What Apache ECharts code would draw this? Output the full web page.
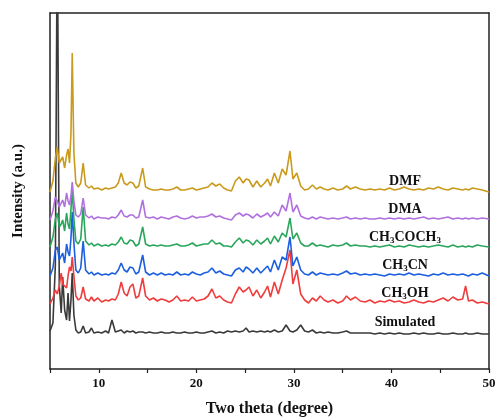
<!DOCTYPE html>
<html>
<head>
<meta charset="utf-8">
<script src="https://cdn.jsdelivr.net/npm/echarts@6/dist/echarts.min.js"></script>
<style>html,body{margin:0;padding:0;background:#fff}#c{width:499px;height:418px}</style>
</head>
<body>
<div id="c"></div>
<script>
// 2θ sample positions (degree)
const twoTheta = [
  5.0, 5.3, 5.55, 5.75, 5.95, 6.15, 6.3, 6.5, 6.7, 6.85,
  7.0, 7.15, 7.28, 7.45, 7.65, 7.9, 8.15, 8.4, 8.65, 9.0,
  9.25, 9.5, 9.9, 10.3, 10.7, 11.0, 11.35, 11.7, 12.0, 12.3,
  12.6, 12.9, 13.2, 13.5, 13.8, 14.1, 14.5, 14.8, 15.2, 15.6,
  16.0, 16.4, 16.8, 17.2, 17.6, 18.0, 18.4, 18.8, 19.2, 19.6,
  20.0, 20.4, 20.8, 21.2, 21.6, 22.0, 22.4, 22.8, 23.2, 23.6,
  24.0, 24.4, 24.8, 25.1, 25.4, 25.8, 26.2, 26.6, 27.0, 27.3,
  27.6, 28.0, 28.4, 28.8, 29.2, 29.6, 29.9, 30.3, 30.7, 31.1,
  31.5, 31.9, 32.3, 32.7, 33.1, 33.5, 34.0, 34.5, 35.0, 35.4,
  35.8, 36.3, 36.8, 37.3, 37.8, 38.3, 38.8, 39.3, 39.8, 40.3,
  40.8, 41.3, 41.8, 42.3, 42.8, 43.3, 43.8, 44.3, 44.8, 45.3,
  45.8, 46.3, 46.8, 47.3, 47.6, 47.9, 48.3, 48.8, 49.3, 50.0
];

// Intensities (a.u.) of each pattern above its own baseline
const simulated = [
  4, 12, 70, 420, 50, 22, 58, 25, 15, 42,
  14, 35, 62, 20, 5, 2, 3, 9, 2, 3,
  7, 2, 3, 2, 4, 2, 15, 3, 4, 5,
  2, 4, 3, 4, 2, 3, 3, 2, 3, 2,
  2, 3, 2, 2, 3, 2, 2, 3, 2, 2,
  3, 2, 2, 3, 4, 2, 3, 2, 4, 3,
  4, 3, 4, 7, 3, 4, 3, 4, 3, 4,
  3, 5, 3, 4, 10, 4, 3, 5, 10, 4,
  3, 5, 2, 3, 2, 3, 2, 2, 3, 4,
  2, 2, 2, 2, 2, 1, 2, 1, 2, 1,
  2, 1, 1, 2, 1, 2, 1, 1, 2, 1,
  1, 2, 1, 1, 2, 1, 1, 2, 1, 1
];
const ch3oh = [
  2, 8, 16, 12, 20, 33, 22, 24, 18, 30,
  39, 35, 49, 30, 10, 6, 8, 19, 7, 5,
  9, 5, 8, 4, 6, 5, 7, 6, 12, 24,
  13, 10, 19, 22, 8, 10, 28, 10, 6, 8,
  5, 7, 6, 4, 6, 10, 5, 6, 5, 9,
  5, 6, 7, 10, 17, 8, 10, 6, 4, 3,
  12, 19, 14, 16, 19, 10, 16, 8, 14, 20,
  9, 24, 12, 26, 38, 56, 22, 36, 12, 6,
  3, 8, 5, 10, 6, 4, 6, 3, 5, 10,
  6, 9, 5, 4, 6, 3, 5, 4, 6, 4,
  5, 3, 4, 6, 4, 3, 5, 4, 6, 8,
  5, 9, 6, 7, 20, 5, 6, 3, 4, 2
];
const ch3cn = [
  2, 10, 28, 31, 18, 22, 25, 15, 34, 26,
  22, 40, 66, 35, 8, 5, 10, 37, 8, 4,
  6, 3, 5, 3, 4, 3, 5, 4, 8, 15,
  8, 6, 11, 10, 4, 6, 23, 6, 3, 5,
  3, 5, 3, 4, 3, 6, 3, 4, 3, 6,
  4, 3, 5, 6, 10, 5, 7, 4, 3, 2,
  8, 10, 6, 11, 9, 5, 10, 5, 9, 12,
  6, 18, 8, 21, 18, 41, 12, 21, 8, 4,
  3, 6, 3, 5, 4, 3, 4, 3, 5, 7,
  4, 5, 3, 4, 3, 4, 3, 2, 4, 3,
  4, 3, 5, 3, 4, 3, 2, 4, 3, 5,
  3, 4, 3, 4, 3, 2, 4, 3, 5, 2
];
const ch3coch3 = [
  2, 12, 30, 36, 22, 25, 29, 18, 36, 25,
  20, 40, 59, 30, 8, 5, 10, 42, 8, 4,
  6, 3, 5, 3, 4, 3, 5, 4, 7, 12,
  6, 5, 9, 8, 3, 5, 22, 5, 3, 4,
  3, 4, 3, 3, 4, 5, 3, 3, 4, 6,
  3, 4, 5, 5, 9, 5, 6, 3, 3, 2,
  7, 11, 6, 9, 8, 4, 9, 5, 8, 11,
  5, 13, 7, 16, 12, 31, 10, 16, 6, 3,
  3, 6, 3, 4, 3, 2, 4, 3, 4, 6,
  3, 4, 3, 3, 2, 3, 2, 3, 4, 2,
  3, 2, 4, 3, 2, 3, 2, 3, 4, 3,
  2, 4, 2, 3, 2, 3, 2, 4, 3, 2
];
const dma = [
  1, 10, 24, 20, 14, 18, 21, 14, 28, 20,
  16, 25, 39, 20, 6, 4, 7, 23, 6, 3,
  5, 2, 4, 3, 3, 2, 4, 3, 6, 11,
  5, 4, 6, 6, 3, 4, 21, 4, 3, 4,
  2, 4, 3, 2, 4, 5, 3, 2, 3, 5,
  3, 4, 4, 5, 7, 4, 5, 3, 2, 1,
  6, 8, 5, 7, 6, 3, 7, 4, 6, 8,
  4, 9, 5, 16, 10, 28, 9, 16, 5, 3,
  2, 4, 2, 4, 3, 2, 3, 2, 3, 4,
  2, 3, 2, 3, 2, 2, 3, 2, 3, 2,
  3, 2, 3, 2, 3, 4, 2, 3, 2, 3,
  4, 2, 3, 2, 3, 2, 3, 2, 3, 2
];
const dmf = [
  1, 12, 35, 46, 30, 32, 36, 25, 38, 44,
  30, 60, 140, 40, 10, 6, 10, 30, 8, 5,
  7, 4, 5, 3, 5, 4, 5, 6, 10, 20,
  10, 8, 11, 10, 5, 7, 25, 6, 4, 3,
  3, 4, 3, 3, 4, 6, 3, 3, 4, 5,
  3, 4, 5, 6, 10, 7, 9, 5, 3, 2,
  12, 16, 10, 14, 13, 6, 12, 6, 10, 14,
  7, 20, 10, 24, 18, 42, 14, 20, 7, 3,
  4, 8, 4, 6, 4, 3, 5, 3, 4, 7,
  4, 6, 4, 3, 4, 3, 4, 3, 5, 3,
  4, 6, 4, 3, 4, 3, 5, 4, 6, 4,
  3, 5, 4, 3, 4, 3, 5, 4, 3, 1
];

// Stacking offsets (a.u.) and names, bottom to top
const seriesNames = ['Simulated', 'CH3OH', 'CH3CN', 'CH3COCH3', 'DMA', 'DMF'];
const seriesValues = [simulated, ch3oh, ch3cn, ch3coch3, dma, dmf];
const offsets = [34, 63, 91, 120, 148, 176];
const colors = ['#3a3a3a', '#f03c3c', '#1c5fe0', '#2aa65c', '#b070e0', '#c99a1c'];
const labelTexts = ['Simulated', '{b|CH}{s|3}{b|OH}', '{b|CH}{s|3}{b|CN}', '{b|CH}{s|3}{b|COCH}{s|3}', 'DMA', 'DMF'];
const labelY = [322, 293, 265, 237, 209, 181];

const xTicks = [10, 20, 30, 40, 50];

const chart = echarts.init(document.getElementById('c'), null, {renderer: 'canvas'});
const serif = '"Liberation Serif", "Times New Roman", serif';

const series = seriesValues.map((vals, k) => ({
  type: 'line',
  name: seriesNames[k],
  data: twoTheta.map((x, i) => [x, vals[i] + offsets[k]]),
  showSymbol: false,
  symbol: 'none',
  clip: true,
  lineStyle: {color: colors[k], width: 1.6},
  itemStyle: {color: colors[k]},
  animation: false,
  z: 2 + k
}));

const graphic = labelTexts.map((t, k) => ({
  type: 'text',
  x: 405,
  y: labelY[k],
  style: {
    text: t,
    fill: '#111',
    font: 'bold 14px ' + serif,
    align: 'center',
    verticalAlign: 'middle',
    rich: {
      b: {font: 'bold 14px ' + serif, fill: '#111', lineHeight: 18},
      s: {font: 'bold 9px ' + serif, fill: '#111', lineHeight: 18, padding: [7, 0, 0, 0]}
    }
  },
  z: 100
}));

chart.setOption({
  animation: false,
  backgroundColor: '#fff',
  grid: {left: 50, right: 10, top: 13, bottom: 49, containLabel: false, outerBoundsMode: 'none'},
  xAxis: [{
    type: 'value', min: 5, max: 50, interval: 5,
    name: 'Two theta (degree)', nameLocation: 'middle', nameGap: 32,
    nameTextStyle: {fontFamily: serif, fontWeight: 'bold', fontSize: 16, color: '#111'},
    axisLine: {show: true, lineStyle: {color: '#222', width: 1.5}},
    axisTick: {show: true, length: 4, inside: false, lineStyle: {color: '#222', width: 1.2}},
    axisLabel: {
      fontFamily: serif, fontWeight: 'bold', fontSize: 13, color: '#111', margin: 8,
      formatter: v => xTicks.indexOf(v) >= 0 ? String(v) : ''
    },
    splitLine: {show: false}
  }, {
    type: 'value', min: 5, max: 50, position: 'top',
    axisLine: {show: true, onZero: false, lineStyle: {color: '#222', width: 1.5}},
    axisTick: {show: false}, axisLabel: {show: false}, splitLine: {show: false}
  }],
  yAxis: [{
    type: 'value', min: 0, max: 356,
    name: 'Intensity (a.u.)', nameLocation: 'middle', nameGap: 24, nameRotate: 90,
    nameTextStyle: {fontFamily: serif, fontWeight: 'bold', fontSize: 15, color: '#111'},
    axisLine: {show: true, lineStyle: {color: '#222', width: 1.5}},
    axisTick: {show: false}, axisLabel: {show: false}, splitLine: {show: false}
  }, {
    type: 'value', min: 0, max: 356, position: 'right',
    axisLine: {show: true, onZero: false, lineStyle: {color: '#222', width: 1.5}},
    axisTick: {show: false}, axisLabel: {show: false}, splitLine: {show: false}
  }],
  series: series,
  graphic: graphic
});
</script>
</body>
</html>
